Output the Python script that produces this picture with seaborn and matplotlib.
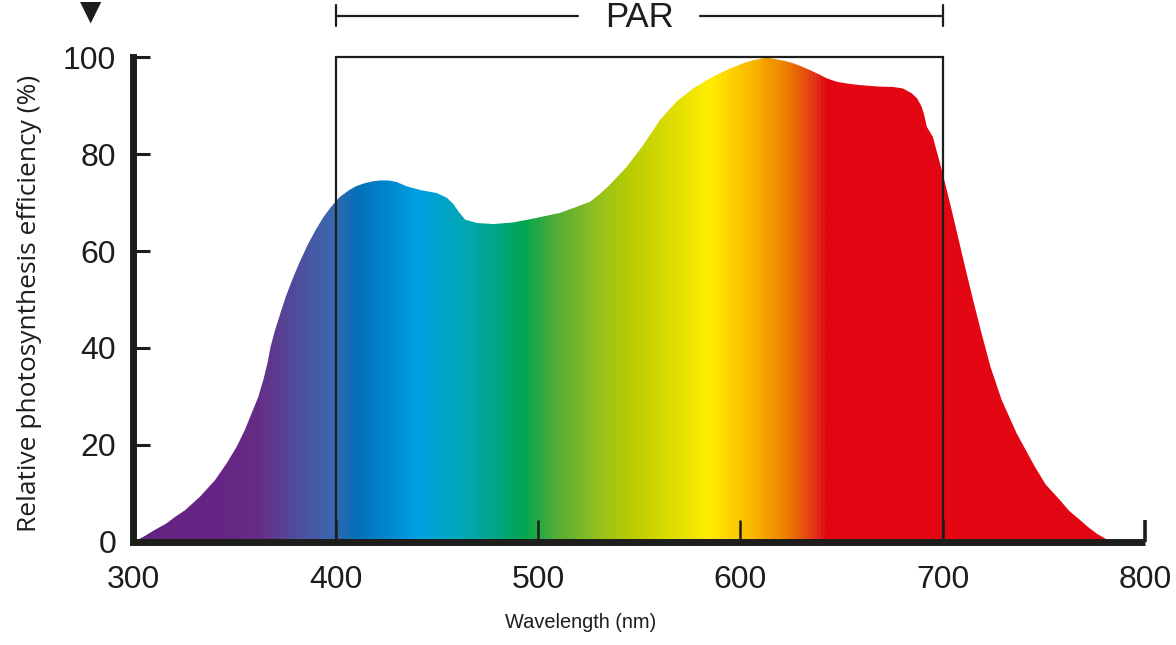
import numpy as np
import pandas as pd
import matplotlib
matplotlib.use("Agg")
import matplotlib.pyplot as plt
import seaborn as sns
from matplotlib.colors import LinearSegmentedColormap
from matplotlib.patches import Rectangle

# ---------------- data ----------------
wavelength = [300, 304.9, 310, 316.4, 320.5, 325.5, 332.9, 340.3, 346.1, 351, 355.1,
              358.4, 361.7, 364.2, 366.2, 367.8, 370, 372.5, 375.3, 378.5, 381.9, 386,
              390.1, 394, 398.4, 402, 406.6, 410, 414, 418, 422, 426, 430, 435, 442,
              450, 455, 458, 461, 464, 470, 478, 487, 495, 503, 510.8, 518, 525.7,
              530, 535.5, 543.8, 552, 560.3, 568.5, 576.7, 585, 593.2, 601.4, 606,
              609.7, 613, 617.9, 622, 626.2, 630, 634.4, 638.5, 642.7, 647.6, 653,
              659.1, 668, 675.6, 680.4, 684.8, 687.5, 689.7, 691, 692.2, 695.2,
              699.6, 704.5, 710.3, 715.1, 719.3, 723.7, 729.2, 736.6, 745.6, 751,
              758, 762.5, 767.9, 772, 776.1, 781, 784]
efficiency = [0, 1.0, 2.3, 3.8, 5.1, 6.5, 9.3, 12.7, 16.2, 19.6, 23.1,
              26.5, 29.9, 33.4, 36.8, 40.3, 43.7, 47.0, 50.6, 54.1, 57.5, 61.2,
              64.4, 67.1, 69.5, 71.2, 72.6, 73.4, 74.0, 74.4, 74.6, 74.6, 74.3, 73.4, 72.6,
              72.0, 71.0, 69.8, 68.0, 66.5, 65.8, 65.6, 65.9, 66.5, 67.2, 67.9, 69.0, 70.2,
              71.6, 73.7, 77.4, 81.9, 87.1, 90.9, 93.6, 95.7, 97.4, 98.8, 99.4,
              99.7, 100, 99.6, 99.3, 98.8, 98.2, 97.4, 96.6, 95.7, 95.0, 94.6,
              94.3, 94.0, 93.9, 93.6, 92.6, 91.5, 89.8, 88.0, 85.7, 83.6,
              76.8, 68.5, 58.2, 49.9, 43.0, 36.1, 29.3, 22.4, 15.5, 11.8,
              8.6, 6.4, 4.5, 3.0, 1.7, 0.5, 0]

stop_nm = [300, 340, 361, 381, 397, 411, 440, 463, 480, 493, 508, 530, 546, 585,
           605, 623, 638, 643, 800]
stop_colors = ["#622482", "#652484", "#662d86", "#4f4f9e", "#3b66ad", "#0071b9",
               "#009fe3", "#00a8b5", "#00a582", "#00a651", "#4fac38", "#95c11f",
               "#b8cc00", "#ffed00", "#fbba00", "#ee7f00", "#e2301b", "#e30613", "#e30613"]

x_ticks = [300, 400, 500, 600, 700, 800]
y_ticks = [0, 20, 40, 60, 80, 100]
par_range = [400, 700]
par_label = "PAR"
x_label = "Wavelength (nm)"
y_label = "Relative photosynthesis efficiency (%)"

# ---------------- figure ----------------
sns.set_style("white")
plt.rcParams["font.family"] = ["Liberation Sans", "DejaVu Sans"]
ink = "#1d1d1b"

fig = plt.figure(figsize=(11.76, 6.45), dpi=100)
ax = fig.add_axes([0.1135, 0.1602, 0.8600, 0.7507])
ax.set_axisbelow(False)

df = pd.DataFrame({"wavelength": wavelength, "efficiency": efficiency})
sns.lineplot(data=df, x="wavelength", y="efficiency", ax=ax, lw=0, sort=False)

# gradient fill clipped to the curve
poly = ax.fill_between(df["wavelength"], 0, df["efficiency"], facecolor="none",
                       edgecolor="none", lw=0)
xmin, xmax = x_ticks[0], x_ticks[-1]
cmap = LinearSegmentedColormap.from_list(
    "spectrum", [((n - xmin) / (xmax - xmin), c) for n, c in zip(stop_nm, stop_colors)])
grad = np.linspace(xmin, xmax, 2001)[None, :]
im = ax.imshow(grad, extent=[xmin, xmax, 0, 100], aspect="auto", cmap=cmap,
               vmin=xmin, vmax=xmax, origin="lower", interpolation="bilinear", zorder=1)
im.set_clip_path(poly.get_paths()[0], transform=ax.transData)

ax.set_xlim(xmin, xmax)
ax.set_ylim(y_ticks[0], y_ticks[-1])

# PAR box
ax.add_patch(Rectangle((par_range[0], 0), par_range[1] - par_range[0], 100, fill=False,
                       lw=1.6, ec=ink, clip_on=False, zorder=5))

# PAR bracket
mid = (par_range[0] + par_range[1]) / 2
yb = 108.6
gap = 30
ax.plot([par_range[0], mid - gap], [yb, yb], color=ink, lw=1.6, clip_on=False)
ax.plot([mid + gap, par_range[1]], [yb, yb], color=ink, lw=1.6, clip_on=False)
for xe in par_range:
    ax.plot([xe, xe], [106.4, 110.8], color=ink, lw=1.6, clip_on=False)
ax.text(mid, 106.3, par_label, ha="center", va="baseline", fontsize=25, color=ink)

# spines / ticks
for s in ["top", "right"]:
    ax.spines[s].set_visible(False)
for s in ["left", "bottom"]:
    ax.spines[s].set_linewidth(5)
    ax.spines[s].set_color(ink)
    ax.spines[s].set_zorder(6)
ax.spines["left"].set_capstyle("projecting")
ax.spines["bottom"].set_capstyle("butt")

ax.set_xticks(x_ticks)
ax.set_yticks(y_ticks)
ax.set_xticklabels([str(t) for t in x_ticks])
ax.set_yticklabels([str(t) for t in y_ticks])
ax.tick_params(axis="x", which="major", bottom=True, top=False, direction="in",
               length=15.5, width=1.8, color=ink, labelsize=23, pad=16.5,
               labelcolor=ink)
ax.tick_params(axis="y", which="major", left=True, right=False, direction="in",
               length=12.3, width=2.2, color=ink, labelsize=23, pad=12.5,
               labelcolor=ink)
ax.xaxis.get_major_ticks()[-1].tick1line.set_markeredgewidth(2.6)
ax.xaxis.set_zorder(7)
ax.yaxis.set_zorder(7)
ax.set_xlabel("")
ax.set_ylabel("")
ax.grid(False)

fig.text(581 / 1176, 1 - 623 / 645, x_label, ha="center", va="center", fontsize=14.4,
         color=ink)
fig.text(30 / 1176, 1 - 303 / 645, y_label, ha="center", va="center", rotation=90,
         fontsize=19, color=ink, family=["Open Sans", "DejaVu Sans"])
fig.text(91 / 1176, 1 - 12 / 645, "\u25BC", ha="center", va="center", fontsize=20,
         color=ink, family=["DejaVu Sans"])

fig.savefig("out.png", dpi=100, facecolor="white")
